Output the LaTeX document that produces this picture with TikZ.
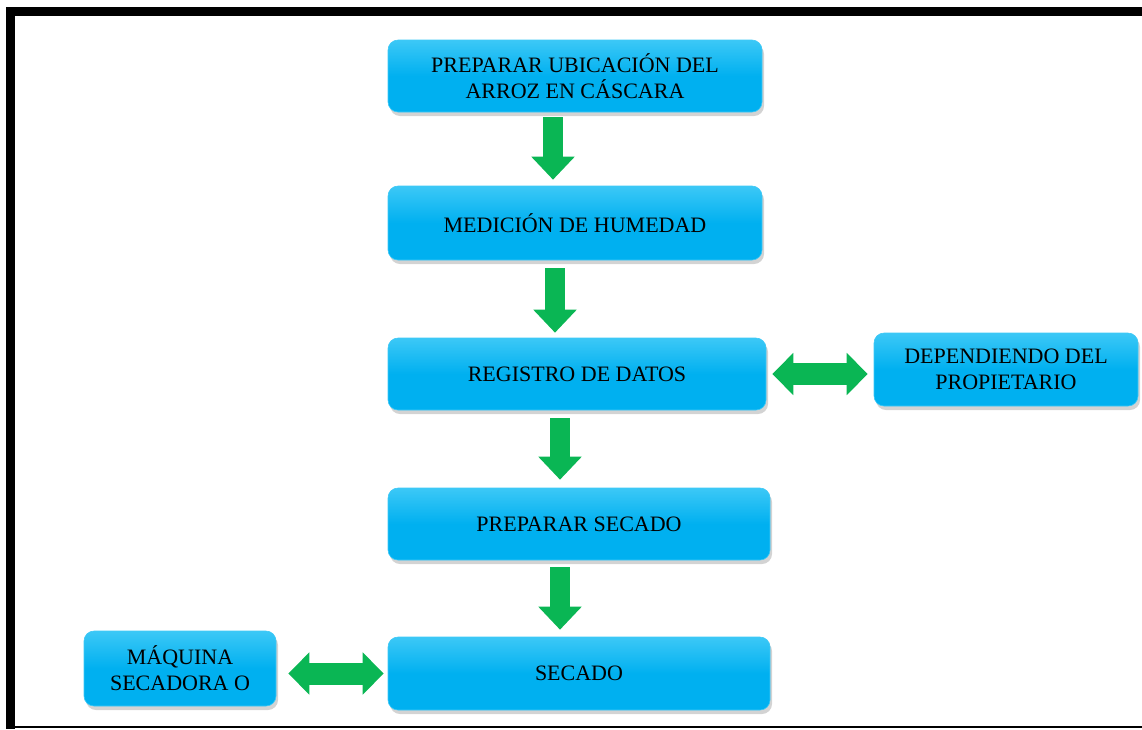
\documentclass[tikz,border=0pt]{standalone}
\usepackage{fontspec}
\setmainfont{Liberation Serif}
\usetikzlibrary{arrows.meta,shadows}

\definecolor{celeste}{RGB}{0,176,240}
\definecolor{celesteclaro}{RGB}{60,200,246}
\definecolor{verde}{RGB}{10,182,84}

\tikzset{
    caja/.style={rounded corners=10pt, inner sep=0pt, align=center,
        top color=celesteclaro, bottom color=celeste, middle color=celeste,
        draw=celesteclaro, line width=0.6pt,
        drop shadow={shadow xshift=2pt, shadow yshift=-4pt, opacity=0.35},
        font=\fontsize{22}{26}\selectfont},
    flecha/.style={draw=verde, line width=20pt,
        -{Triangle[width=42pt,length=23pt]}},
    dobleflecha/.style={draw=verde, line width=22pt,
        {Triangle[width=41pt,length=21pt]}-{Triangle[width=41pt,length=21pt]}},
}

\begin{document}
\begin{tikzpicture}[x=1pt,y=-1pt]
    \useasboundingbox (0,0) rectangle (1142,729);

    % Marco
    \fill[black] (6,7) rectangle (1142,16);
    \fill[black] (6,7) rectangle (15,729);
    \draw[black, line width=1.5pt] (15,727) -- (1142,727);

    % Cajas principales
    \node[caja, minimum width=374pt, minimum height=72pt] (b1) at (575,76)
        {PREPARAR UBICACIÓN DEL\\ARROZ EN CÁSCARA};
    \node[caja, minimum width=374pt, minimum height=74pt] (b2) at (575,223)
        {MEDICIÓN DE HUMEDAD};
    \node[caja, minimum width=378pt, minimum height=72pt] (b3) at (577,374)
        {REGISTRO DE DATOS};
    \node[caja, minimum width=382pt, minimum height=72pt] (b5) at (579,524)
        {PREPARAR SECADO};
    \node[caja, minimum width=382pt, minimum height=73pt] (b6) at (579,673.5)
        {SECADO};

    % Cajas laterales
    \node[caja, minimum width=264pt, minimum height=73pt] (b4) at (1006,369.5)
        {DEPENDIENDO DEL\\PROPIETARIO};
    \node[caja, minimum width=192pt, minimum height=75pt] (b7) at (180,668.5)
        {MÁQUINA\\SECADORA O};

    % Flechas
    \draw[flecha, shorten <=5pt, shorten >=6pt]
        ([xshift=-22pt]b1.south) -- ([xshift=-22pt]b1.south |- b2.north);
    \draw[flecha, shorten <=8pt, shorten >=5pt]
        ([xshift=-20pt]b2.south) -- ([xshift=-20pt]b2.south |- b3.north);
    \draw[flecha, shorten <=8pt, shorten >=8pt]
        ([xshift=-17pt]b3.south) -- ([xshift=-17pt]b3.south |- b5.north);
    \draw[flecha, shorten <=7pt, shorten >=7pt]
        ([xshift=-19pt]b5.south) -- ([xshift=-19pt]b5.south |- b6.north);
    \draw[dobleflecha, shorten <=6pt, shorten >=6pt]
        (b3.east) -- (b3.east -| b4.west);
    \draw[dobleflecha, shorten <=12pt, shorten >=4pt]
        (b6.west -| b7.east) -- (b6.west);
\end{tikzpicture}
\end{document}
